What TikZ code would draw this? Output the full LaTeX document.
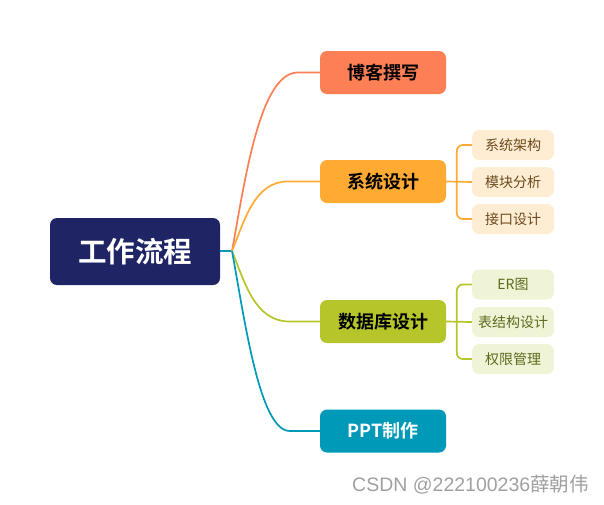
\documentclass[tikz,border=0pt]{standalone}
\usepackage{fontspec}
\setmainfont{Liberation Sans}
\newfontfamily\cjk{Noto Sans CJK SC}
\newfontfamily\cjkb{Noto Sans CJK SC Bold}
\usetikzlibrary{calc}
\definecolor{cCoral}{HTML}{FC7F56}
\definecolor{cOrange}{HTML}{FFAA33}
\definecolor{cGreen}{HTML}{B6C62A}
\definecolor{cTeal}{HTML}{0099B8}
\definecolor{cNavy}{HTML}{1F2465}
\definecolor{cLOrange}{HTML}{FFEDD3}
\definecolor{cLGreen}{HTML}{F0F4D6}
\definecolor{cTOrange}{HTML}{6B4A1E}
\definecolor{cTGreen}{HTML}{5C6A1E}
\definecolor{cWater}{HTML}{A0A0A0}
\tikzset{
  rootbox/.style={fill=cNavy, rounded corners=7pt, minimum width=170pt, minimum height=67pt, inner sep=0pt, text=white, font=\cjkb\fontsize{28.5}{31}\selectfont},
  branchbox/.style={rounded corners=7pt, minimum width=126pt, minimum height=43pt, inner sep=0pt, font=\cjkb\fontsize{18}{21}\selectfont},
  childbox/.style={rounded corners=7pt, minimum width=82pt, minimum height=30pt, inner sep=0pt, font=\cjk\fontsize{14}{16}\selectfont},
  link/.style={line width=1.7pt},
}
\begin{document}
\begin{tikzpicture}[x=1pt,y=-1pt]
\useasboundingbox (0,0) rectangle (604,504);
\node[rootbox] (root) at (135,251.5) {工作流程};
\coordinate (J) at (232,251);

\node[branchbox, fill=cCoral, text=black] (b1) at (383,72.5) {博客撰写};
\node[branchbox, fill=cOrange, text=black] (b2) at (383,181.5) {系统设计};
\node[branchbox, fill=cGreen, text=black] (b3) at (383,321.5) {数据库设计};
\node[branchbox, fill=cTeal, text=white] (b4) at (383,431) {PPT制作};

\node[childbox, fill=cLOrange, text=cTOrange] (s1) at (513,145) {系统架构};
\node[childbox, fill=cLOrange, text=cTOrange] (s2) at (513,182) {模块分析};
\node[childbox, fill=cLOrange, text=cTOrange] (s3) at (513,219) {接口设计};

\node[childbox, fill=cLGreen, text=cTGreen] (d1) at (513,284.5) {ER图};
\node[childbox, fill=cLGreen, text=cTGreen] (d2) at (513,322) {表结构设计};
\node[childbox, fill=cLGreen, text=cTGreen] (d3) at (513,359) {权限管理};

\draw[link, cTeal] (root.east |- J) -- (J);
\draw[link, cCoral] (J) .. controls ($(J)+(13,-71)$) and ($(b1.west)+(-60,0)$) .. ($(b1.west)+(-22,0)$) -- (b1.west);
\draw[link, cOrange] (J) .. controls ($(J)+(13,-32)$) and ($(b2.west)+(-65,0)$) .. ($(b2.west)+(-32,0)$) -- (b2.west);
\draw[link, cGreen] (J) .. controls ($(J)+(13,32)$) and ($(b3.west)+(-65,0)$) .. ($(b3.west)+(-30,0)$) -- (b3.west);
\draw[link, cTeal] (J) .. controls ($(J)+(13,71)$) and ($(b4.west)+(-60,0)$) .. ($(b4.west)+(-30,0)$) -- (b4.west);

\draw[link, cOrange] (b2.east) -- (s2.west);
\draw[link, cOrange, rounded corners=6pt] (s1.west) -- ++(-15,0) |- (s3.west);
\draw[link, cGreen] (b3.east) -- (d2.west);
\draw[link, cGreen, rounded corners=6pt] (d1.west) -- ++(-15,0) |- (d3.west);

\node[anchor=east, text=cWater, inner sep=0pt, font=\fontsize{19.5}{21}\selectfont] (wm) at (589,485) {CSDN @222100236{\cjk 薛朝伟}};
\end{tikzpicture}
\end{document}
